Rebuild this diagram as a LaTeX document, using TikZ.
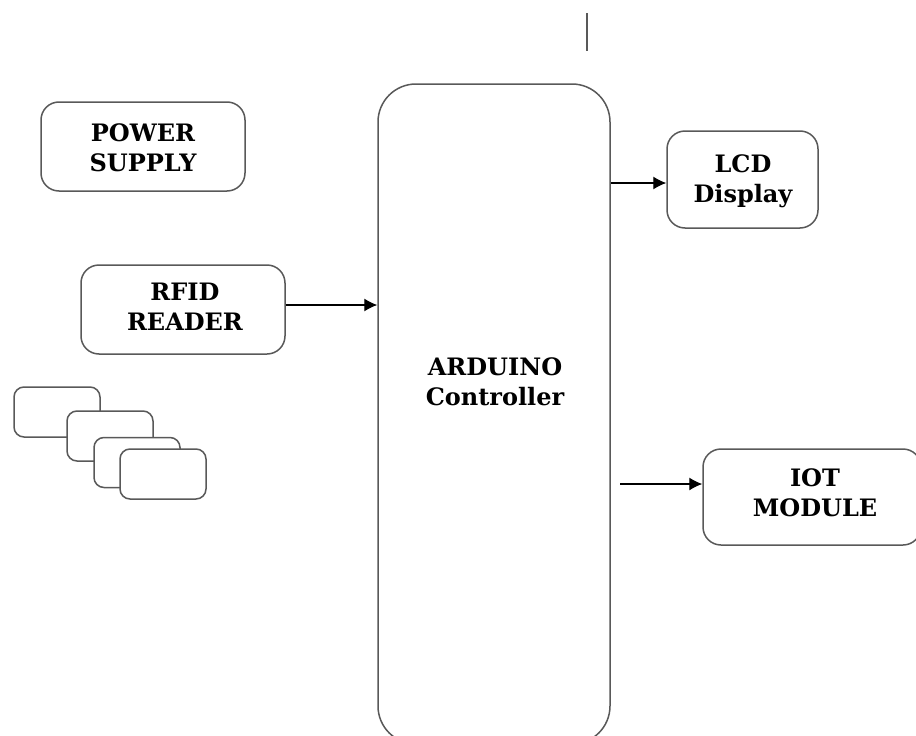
\documentclass[tikz,border=0pt]{standalone}
\usepackage{fontspec}
\setmainfont{DejaVu Serif}
\usetikzlibrary{arrows.meta}
\begin{document}
\begin{tikzpicture}[
x=1pt, y=-1pt,
every node/.style={font=\fontsize{24}{30.5}\selectfont\bfseries, align=center},
block/.style={draw=black!65, line width=1.5pt, fill=white, rounded corners=18pt, inner sep=0pt},
tag/.style={block, minimum width=86pt, minimum height=50pt, rounded corners=10pt},
link/.style={-{Latex[length=13pt, width=13pt]}, line width=1.1pt, black}
]

    \useasboundingbox (0,0) rectangle (916,736);
    \clip (0,0) rectangle (916,736);

    % Stray mark
    \coordinate (marktop) at (587,13);
    \coordinate (markend) at (587,51);
    \draw[black!65, line width=1.4pt] (marktop) -- (markend);

    % Controller
    \node[block, rounded corners=38pt, minimum width=232pt, minimum height=660pt] (arduino) at (494,414) {};
    \node (arduinotext) at (495,382) {ARDUINO\\Controller};

    % Blocks
    \node[block, minimum width=204pt, minimum height=89pt] (power) at (143,146.5) {};
    \node[block, minimum width=204pt, minimum height=89pt] (rfid) at (183,309.5) {};
    \node[block, minimum width=151pt, minimum height=97pt] (lcd) at (742.5,179.5) {};
    \node[block, minimum width=218pt, minimum height=96pt] (iot) at (812,497) {};

    % Block texts
    \node (powertext) at (143,148) {POWER\\SUPPLY};
    \node (rfidtext) at (185,306.5) {RFID\\READER};
    \node (lcdtext) at (743,181.5) {LCD\\Display};
    \node (iottext) at (815,493) {IOT\\MODULE};

    % RFID tags
    \node[tag] (tag1) at (57,412) {};
    \node[tag] (tag2) at (110,436) {};
    \node[tag] (tag3) at (137,462.5) {};
    \node[tag] (tag4) at (163,474) {};

    % Connections
    \draw[link] (rfid.east |- 0,305) -- (arduino.west |- 0,305);
    \draw[link] (arduino.east |- 0,183) -- (lcd.west |- 0,183);
    \coordinate (iotstart) at (620,484);
    \draw[link] (iotstart) -- (iot.west |- iotstart);

\end{tikzpicture}
\end{document}
